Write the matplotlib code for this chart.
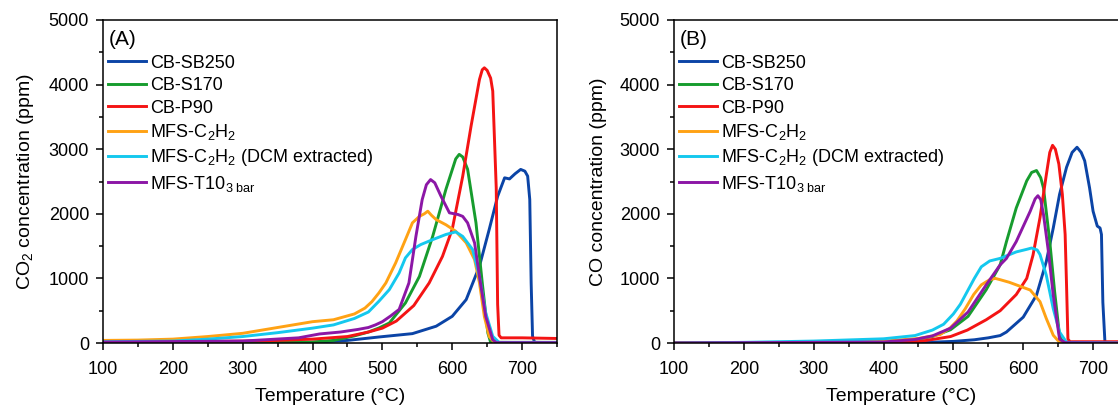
import numpy as np
import matplotlib
matplotlib.use("Agg")
import matplotlib.pyplot as plt
from matplotlib.ticker import MultipleLocator

plt.rcParams["font.family"] = ["Liberation Sans", "DejaVu Sans"]
plt.rcParams["mathtext.fontset"] = "custom"
plt.rcParams["mathtext.rm"] = "Liberation Sans"
plt.rcParams["mathtext.it"] = "Liberation Sans:italic"
plt.rcParams["mathtext.bf"] = "Liberation Sans:bold"

# ---- series names / colours ----
labels = ["CB-SB250", "CB-S170", "CB-P90", "MFS-C$_2$H$_2$",
          "MFS-C$_2$H$_2$ (DCM extracted)", r"MFS-T10$_{3\ \mathrm{bar}}$"]
colors = ["#0b44a6", "#179c2e", "#f41414", "#ffa214", "#14c8ee", "#8c17a6"]

# ---- (A) CO2 concentration, ppm ----
co2_sb250_t = [100, 400, 450, 495, 543, 577, 600, 620, 639, 653, 665, 675, 682, 690, 698, 704, 708, 711, 713, 715, 718, 750]
co2_sb250 = [5, 10, 40, 93, 145, 260, 413, 672, 1190, 1760, 2270, 2557, 2540, 2620, 2687, 2660, 2583, 2222, 930, 103, 10, 5]

co2_s170_t = [100, 300, 400, 430, 460, 480, 495, 510, 533, 553, 572, 591, 605, 610, 615, 622, 634, 643, 651, 655, 750]
co2_s170 = [5, 5, 15, 40, 110, 170, 232, 310, 620, 1030, 1650, 2380, 2850, 2920, 2880, 2690, 1860, 930, 155, 10, 5]

co2_p90_t = [100, 200, 300, 350, 400, 450, 480, 500, 520, 545, 567, 586, 600, 615, 627, 639, 643, 646, 650, 655, 658, 661, 663, 665, 667, 670, 700, 750]
co2_p90 = [20, 20, 30, 40, 60, 100, 170, 230, 340, 580, 930, 1340, 1760, 2580, 3360, 4080, 4230, 4260, 4220, 4100, 3900, 3000, 2400, 600, 120, 80, 80, 70]

co2_c2h2_t = [100, 150, 200, 250, 300, 350, 400, 430, 460, 475, 485, 495, 505, 519, 533, 543, 553, 560, 565, 570, 577, 591, 605, 620, 632, 639, 646, 653, 660, 750]
co2_c2h2 = [40, 45, 60, 100, 150, 240, 330, 360, 450, 540, 640, 775, 930, 1240, 1600, 1860, 1960, 2000, 2040, 1980, 1910, 1830, 1730, 1550, 1290, 930, 410, 100, 10, 10]

co2_dcm_t = [100, 200, 250, 300, 350, 400, 430, 460, 480, 495, 510, 524, 533, 543, 555, 572, 591, 605, 615, 629, 639, 648, 658, 667, 750]
co2_dcm = [20, 30, 60, 100, 160, 230, 280, 380, 480, 646, 827, 1085, 1318, 1447, 1524, 1600, 1680, 1720, 1650, 1450, 1030, 465, 103, 10, 10]

co2_t10_t = [100, 300, 380, 410, 440, 465, 480, 490, 500, 512, 524, 538, 548, 557, 563, 569, 575, 584, 596, 608, 615, 622, 632, 639, 648, 658, 663, 750]
co2_t10 = [15, 30, 80, 140, 170, 210, 240, 280, 330, 420, 520, 930, 1650, 2220, 2450, 2530, 2480, 2270, 2015, 1990, 1960, 1860, 1550, 1030, 410, 50, 5, 5]

# ---- (B) CO concentration, ppm ----
co_sb250_t = [100, 450, 500, 530, 550, 567, 576, 600, 619, 633, 643, 652, 662, 670, 677, 683, 688, 695, 700, 706, 710, 712, 714, 717, 750]
co_sb250 = [0, 5, 25, 50, 80, 115, 170, 400, 740, 1260, 1780, 2300, 2720, 2950, 3030, 2950, 2820, 2400, 2040, 1810, 1780, 1680, 630, 10, 5]

co_s170_t = [100, 400, 445, 470, 496, 521, 547, 567, 576, 590, 605, 612, 619, 625, 629, 638, 645, 652, 657, 750]
co_s170 = [0, 15, 50, 100, 206, 412, 825, 1210, 1570, 2090, 2510, 2640, 2670, 2560, 2400, 1570, 790, 115, 0, 0]

co_p90_t = [100, 400, 450, 496, 520, 547, 567, 590, 605, 614, 624, 633, 638, 642, 646, 651, 656, 660, 662, 664, 667, 750]
co_p90 = [0, 5, 20, 100, 200, 360, 500, 750, 1000, 1360, 1940, 2600, 2950, 3060, 3000, 2770, 2300, 1680, 900, 60, 20, 20]

co_c2h2_t = [100, 300, 400, 450, 481, 495, 505, 517, 529, 540, 552, 560, 567, 580, 590, 610, 624, 633, 643, 652, 750]
co_c2h2 = [0, 10, 30, 70, 130, 230, 340, 530, 750, 900, 980, 1000, 980, 940, 900, 820, 640, 380, 120, 10, 0]

co_dcm_t = [100, 200, 300, 400, 445, 470, 486, 500, 510, 520, 530, 540, 552, 567, 590, 605, 612, 620, 624, 633, 643, 652, 662, 750]
co_dcm = [0, 10, 30, 65, 115, 200, 290, 450, 600, 800, 1000, 1180, 1270, 1310, 1410, 1450, 1470, 1440, 1370, 1050, 530, 170, 10, 0]

co_t10_t = [100, 400, 445, 470, 496, 521, 547, 567, 576, 590, 610, 617, 621, 625, 629, 636, 643, 652, 660, 750]
co_t10 = [0, 15, 55, 110, 230, 480, 900, 1210, 1310, 1570, 2040, 2230, 2280, 2220, 1990, 1420, 740, 60, 5, 0]

co2_series = [(co2_sb250_t, co2_sb250), (co2_s170_t, co2_s170), (co2_p90_t, co2_p90),
              (co2_c2h2_t, co2_c2h2), (co2_dcm_t, co2_dcm), (co2_t10_t, co2_t10)]
co_series = [(co_sb250_t, co_sb250), (co_s170_t, co_s170), (co_p90_t, co_p90),
             (co_c2h2_t, co_c2h2), (co_dcm_t, co_dcm), (co_t10_t, co_t10)]

W, H = 1118, 405
fig = plt.figure(figsize=(W / 100, H / 100), dpi=100)
ax_a = fig.add_axes([103 / W, (H - 343) / H, 454 / W, 323 / H])
# right panel runs past the figure edge, as in the original crop
ax_b = fig.add_axes([674 / W, (H - 343) / H, 454 / W, 323 / H])


def style_panel(ax, series, ylabel, tag):
    for (t, y), c, lab in zip(series, colors, labels):
        ax.plot(t, y, color=c, lw=2.1, label=lab, solid_joinstyle="round")
    ax.set_xlim(100, 750)
    ax.set_ylim(0, 5000)
    ax.xaxis.set_major_locator(MultipleLocator(100))
    ax.xaxis.set_minor_locator(MultipleLocator(50))
    ax.yaxis.set_major_locator(MultipleLocator(1000))
    ax.yaxis.set_minor_locator(MultipleLocator(500))
    ax.tick_params(which="both", direction="out", width=1.1, labelsize=13)
    ax.tick_params(axis="x", which="both", pad=8)
    ax.tick_params(axis="y", which="both", pad=5)
    ax.tick_params(which="major", length=5)
    ax.tick_params(which="minor", length=3)
    for s in ax.spines.values():
        s.set_linewidth(1.1)
    ax.set_xlabel("Temperature (°C)", fontsize=14, labelpad=7)
    ax.set_ylabel(ylabel, fontsize=14, labelpad=9)
    ax.text(0.012, 0.97, tag, transform=ax.transAxes, fontsize=15, va="top", ha="left")
    ax.legend(loc="upper left", bbox_to_anchor=(-0.005, 0.915), frameon=False, fontsize=13,
              handlelength=2.1, handletextpad=0.25, labelspacing=0.3, borderaxespad=0.0)


style_panel(ax_a, co2_series, "CO$_2$ concentration (ppm)", "(A)")
style_panel(ax_b, co_series, "CO concentration (ppm)", "(B)")

fig.savefig("out.png", dpi=100)
